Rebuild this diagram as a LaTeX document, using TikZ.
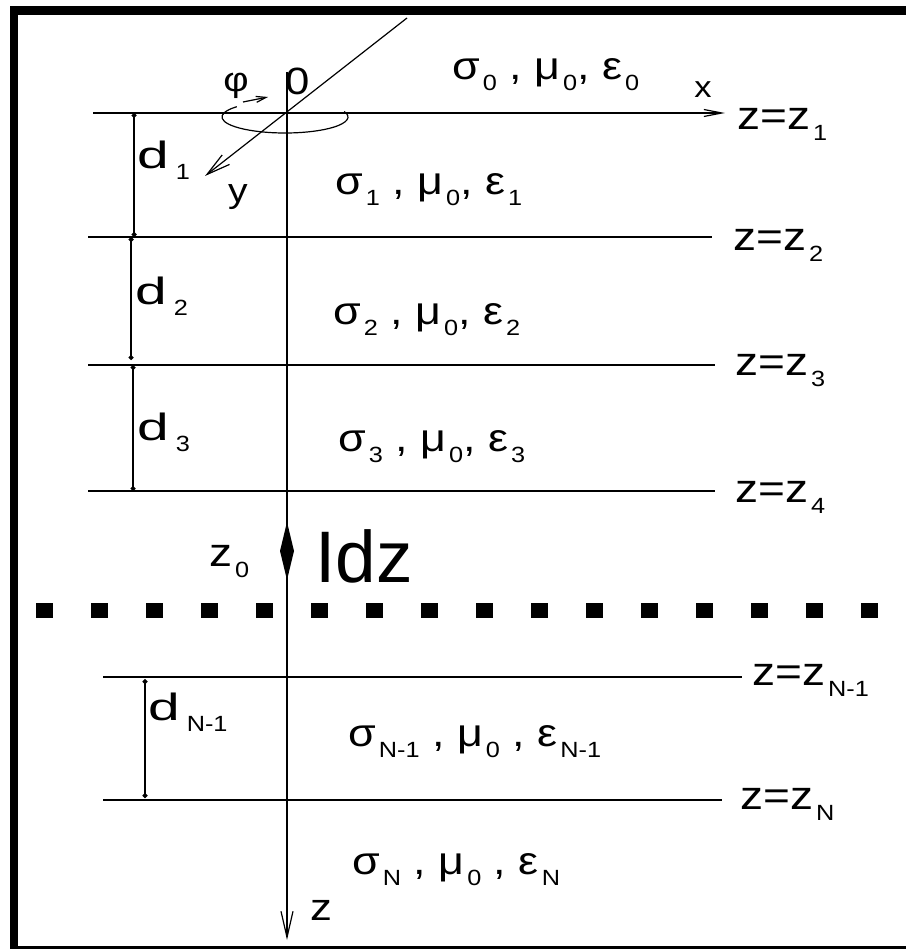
\documentclass[tikz,border=0pt]{standalone}
\usepackage{fontspec}
\setmainfont{Liberation Sans}[FakeStretch=1.15]
\newfontfamily\plainsans{Liberation Sans}
\usetikzlibrary{arrows.meta}
\newcommand\lsub[1]{\kern3pt\raisebox{-11pt}{\fontsize{22}{24}\selectfont #1}}
\newcommand\wided{\scalebox{1.3}[1]{d}}
\begin{document}
\begin{tikzpicture}[x=1pt,y=-1pt,
  ln/.style={line width=1.2pt},
  dimline/.style={line width=1.2pt,{Circle[length=5pt]}-{Circle[length=5pt]}},
  row/.style={anchor=west,inner sep=0pt,font=\fontsize{39}{41}\selectfont},
  zlbl/.style={anchor=west,inner sep=0pt,font=\fontsize{40}{42}\selectfont},
  dlbl/.style={anchor=west,inner sep=0pt,font=\fontsize{38}{40}\selectfont},
  axlbl/.style={inner sep=0pt,font=\fontsize{34}{36}\selectfont}
]
\useasboundingbox (0,0) rectangle (906,949);
% frame
\fill[black] (10,6) rectangle (906,15);
\fill[black] (10,6) rectangle (18,949);
\fill[black] (18,946) rectangle (906,949);

% axes
\coordinate (O) at (287,113);
\coordinate (ztop) at (287,72);
\coordinate (zend) at (287,940);
\coordinate (xstart) at (93,113);
\coordinate (xend) at (725,113);
\coordinate (ytop) at (407,18);
\coordinate (yend) at (205,176);
\draw[ln,-{Straight Barb[length=26pt,width=12pt]}] (ztop) -- (zend);
\draw[ln,-{Straight Barb[length=18pt,width=7pt]}] (xstart) -- (xend);
\draw[ln,-{Straight Barb[length=24pt,width=12pt]}] (ytop) -- (yend);
% phi rotation
\draw[ln] (285,117) ++(-140:63 and 16) arc[start angle=-140,end angle=-380,x radius=63,y radius=16];
\draw[ln,-{Straight Barb[length=10pt,width=6pt]}] (243,102) -- (268,97);

\node[axlbl] (phi) at (236,86) {φ};
\node[axlbl,font=\fontsize{38}{40}\selectfont] (zero) at (298,81) {0};
\node[axlbl,font=\fontsize{30}{32}\selectfont] (xl) at (703,90) {x};
\node[axlbl] (yl) at (238,197) {y};
\node[axlbl,font=\fontsize{38}{40}\selectfont] (zl) at (321,910) {z};

% interfaces
\coordinate (l2a) at (88,237);  \coordinate (l2b) at (712,237);
\coordinate (l3a) at (88,365);  \coordinate (l3b) at (715,365);
\coordinate (l4a) at (88,491);  \coordinate (l4b) at (715,491);
\coordinate (lNa) at (103,677); \coordinate (lNb) at (742,677);
\coordinate (lMa) at (103,800); \coordinate (lMb) at (722,800);
\draw[ln] (l2a) -- (l2b);
\draw[ln] (l3a) -- (l3b);
\draw[ln] (l4a) -- (l4b);
\draw[ln] (lNa) -- (lNb);
\draw[ln] (lMa) -- (lMb);

\node[zlbl] (z1) at (737,124) {z=z\lsub{1}};
\node[zlbl] (z2) at (733,245) {z=z\lsub{2}};
\node[zlbl] (z3) at (735,371) {z=z\lsub{3}};
\node[zlbl] (z4) at (735,497) {z=z\lsub{4}};
\node[zlbl] (zN1) at (752,680) {z=z\lsub{N-1}};
\node[zlbl] (zN) at (740,804) {z=z\lsub{N}};

% thicknesses
\coordinate (d1a) at (134,113); \coordinate (d1b) at (134,237);
\coordinate (d2a) at (131,237); \coordinate (d2b) at (131,360);
\coordinate (d3a) at (133,365); \coordinate (d3b) at (133,491);
\coordinate (dNa) at (145,679); \coordinate (dNb) at (145,798);
\draw[dimline] (d1a) -- (d1b);
\draw[dimline] (d2a) -- (d2b);
\draw[dimline] (d3a) -- (d3b);
\draw[dimline] (dNa) -- (dNb);
\node[dlbl] (d1) at (137,160) {\wided\kern4pt\lsub{1}};
\node[dlbl] (d2) at (135,296) {\wided\kern4pt\lsub{2}};
\node[dlbl] (d3) at (137,432) {\wided\kern4pt\lsub{3}};
\node[dlbl] (dN) at (148,712) {\wided\kern4pt\lsub{N-1}};

% media
\node[row] (m0) at (452,75) {σ\lsub{0} , μ\lsub{0}, ε\lsub{0}};
\node[row] (m1) at (335,190) {σ\lsub{1} , μ\lsub{0}, ε\lsub{1}};
\node[row] (m2) at (333,320) {σ\lsub{2} , μ\lsub{0}, ε\lsub{2}};
\node[row] (m3) at (338,447) {σ\lsub{3} , μ\lsub{0}, ε\lsub{3}};
\node[row] (mN1) at (348,742) {σ\lsub{N-1} , μ\lsub{0} , ε\lsub{N-1}};
\node[row] (mN) at (352,870) {σ\lsub{N} , μ\lsub{0} , ε\lsub{N}};

% source
\fill[black] (287,522) -- (294,551) -- (287,580) -- (280,551) -- cycle;
\node[anchor=base west,inner sep=0pt,font=\plainsans\fontsize{73}{75}\selectfont] (idz) at (315,582) {Idz};
\node[anchor=west,inner sep=0pt,font=\fontsize{40}{42}\selectfont] (z0) at (209,562) {z\lsub{0}};

% truncation
\coordinate (da) at (36,610);
\coordinate (db) at (890,610);
\draw[line width=15pt,dash pattern=on 17pt off 38pt] (da) -- (db);
\end{tikzpicture}
\end{document}
